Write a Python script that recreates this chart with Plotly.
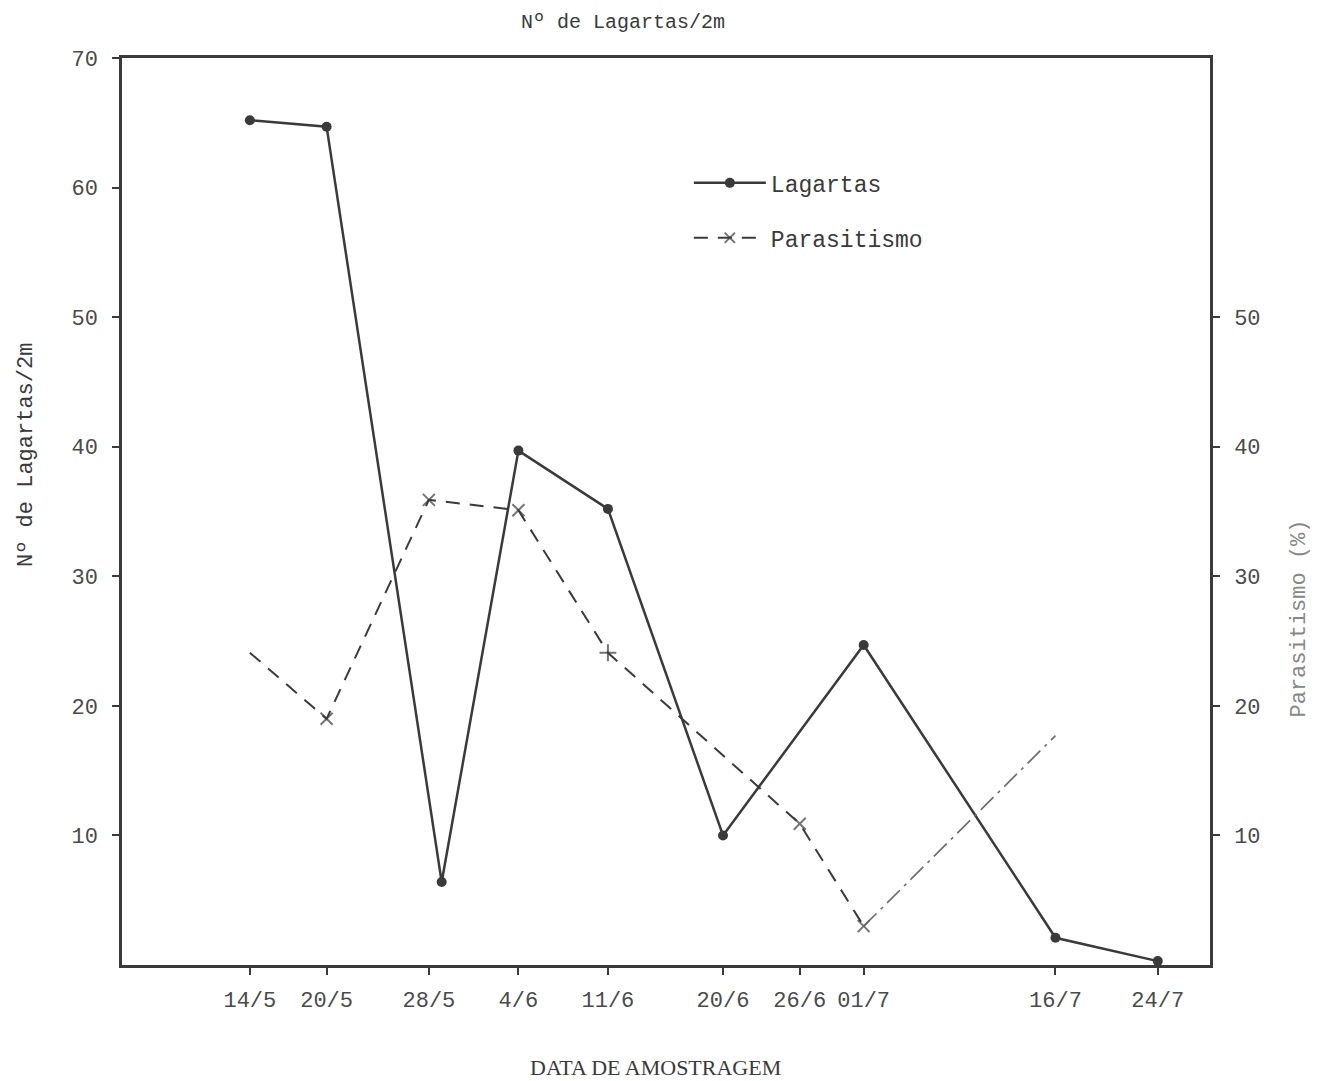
import plotly.graph_objects as go

# ---- data ----
tick_dates = ["1985-05-14", "1985-05-20", "1985-05-28", "1985-06-04", "1985-06-11",
              "1985-06-20", "1985-06-26", "1985-07-01", "1985-07-16", "1985-07-24"]
tick_labels = ["14/5", "20/5", "28/5", "4/6", "11/6", "20/6", "26/6", "01/7", "16/7", "24/7"]

lagartas_dates = ["1985-05-14", "1985-05-20", "1985-05-29", "1985-06-04", "1985-06-11",
                  "1985-06-20", "1985-07-01", "1985-07-16", "1985-07-24"]
lagartas_values = [65.2, 64.7, 6.4, 39.7, 35.2, 10.0, 24.7, 2.1, 0.3]

parasit_dates = ["1985-05-14", "1985-05-20", "1985-05-28", "1985-06-04", "1985-06-11",
                 "1985-06-26", "1985-07-01", "1985-07-16"]
parasit_values = [24.1, 19.0, 35.9, 35.1, 24.1, 10.9, 3.0, 17.7]
parasit_marks = ["none", "x", "x", "x", "+", "x", "x", "none"]

left_ticks = [10, 20, 30, 40, 50, 60, 70]
right_ticks = [10, 20, 30, 40, 50]

INK = "#3a3a3a"
TICK_INK = "#4a4a4a"
MONO = "Liberation Mono, DejaVu Sans Mono, monospace"
SERIF = "Liberation Serif, DejaVu Serif, serif"

sym_map = {"x": "x-thin", "+": "cross-thin", "none": "x-thin"}
p_symbols = [sym_map[m] for m in parasit_marks]
p_sizes = [0 if m == "none" else 12 for m in parasit_marks]

fig = go.Figure()

fig.add_trace(go.Scatter(
    x=lagartas_dates, y=lagartas_values, name="Lagartas",
    mode="lines+markers", legendgroup="a",
    line=dict(color=INK, width=2.5),
    marker=dict(symbol="circle", size=10, color=INK),
))

# main dashed parasitism line (up to 01/7)
fig.add_trace(go.Scatter(
    x=parasit_dates[:-1], y=parasit_values[:-1], name="Parasitismo",
    mode="lines+markers", legendgroup="b", yaxis="y2",
    line=dict(color=INK, width=2, dash="14px,10px"),
    marker=dict(symbol=p_symbols[:-1], size=p_sizes[:-1], color=INK,
                line=dict(color=INK, width=2)),
))
# lighter final segment (01/7 -> 16/7)
fig.add_trace(go.Scatter(
    x=parasit_dates[-2:], y=parasit_values[-2:], showlegend=False,
    mode="lines", yaxis="y2",
    line=dict(color="#6a6a6a", width=1.6, dash="18px,6px,3px,6px"),
))

axis_common = dict(
    ticks="outside", ticklen=7, tickwidth=2, tickcolor=INK,
    showline=True, linecolor=INK, linewidth=2.5,
    showgrid=False, zeroline=False,
    tickfont=dict(family=MONO, size=22, color=TICK_INK),
)

fig.update_layout(
    width=1310, height=1073,
    margin=dict(l=114, r=108, t=50, b=116),
    paper_bgcolor="white", plot_bgcolor="white",
    showlegend=True,
    legend=dict(x=0.521, y=0.886, xanchor="left", yanchor="top",
                font=dict(family=MONO, size=23, color=INK),
                bgcolor="rgba(0,0,0,0)", tracegroupgap=22, itemwidth=72),
    xaxis=dict(
        type="date", range=["1985-05-04", "1985-07-28 02:00"],
        tickvals=tick_dates, ticktext=tick_labels, mirror=True,
        ticklabelstandoff=6,
        **axis_common,
    ),
    yaxis=dict(
        range=[0, 70], tickvals=left_ticks, ticklabelstandoff=10,
        **axis_common,
    ),
    yaxis2=dict(
        range=[0, 70], tickvals=right_ticks, overlaying="y", side="right",
        ticklabelstandoff=10,
        **axis_common,
    ),
    annotations=[
        dict(text="Nº de Lagartas/2m", xref="paper", yref="paper", x=0.4605, y=1.0386,
             xanchor="center", yanchor="middle",
             showarrow=False, font=dict(family=MONO, size=20, color=INK)),
        dict(text="Nº de Lagartas/2m", xref="paper", yref="paper", x=-0.0873, y=0.5623,
             xanchor="center", yanchor="middle",
             textangle=-90, showarrow=False, font=dict(family=MONO, size=22, color=INK)),
        dict(text="Parasitismo (%)", xref="paper", yref="paper", x=1.0827, y=0.382,
             xanchor="center", yanchor="middle",
             textangle=-90, showarrow=False, font=dict(family=MONO, size=22, color="#888888")),
        dict(text="DATA DE AMOSTRAGEM", xref="paper", yref="paper", x=0.49, y=-0.1125,
             xanchor="center", yanchor="middle",
             showarrow=False, font=dict(family=SERIF, size=22, color=INK)),
    ],
)

fig.write_html("out.html")
